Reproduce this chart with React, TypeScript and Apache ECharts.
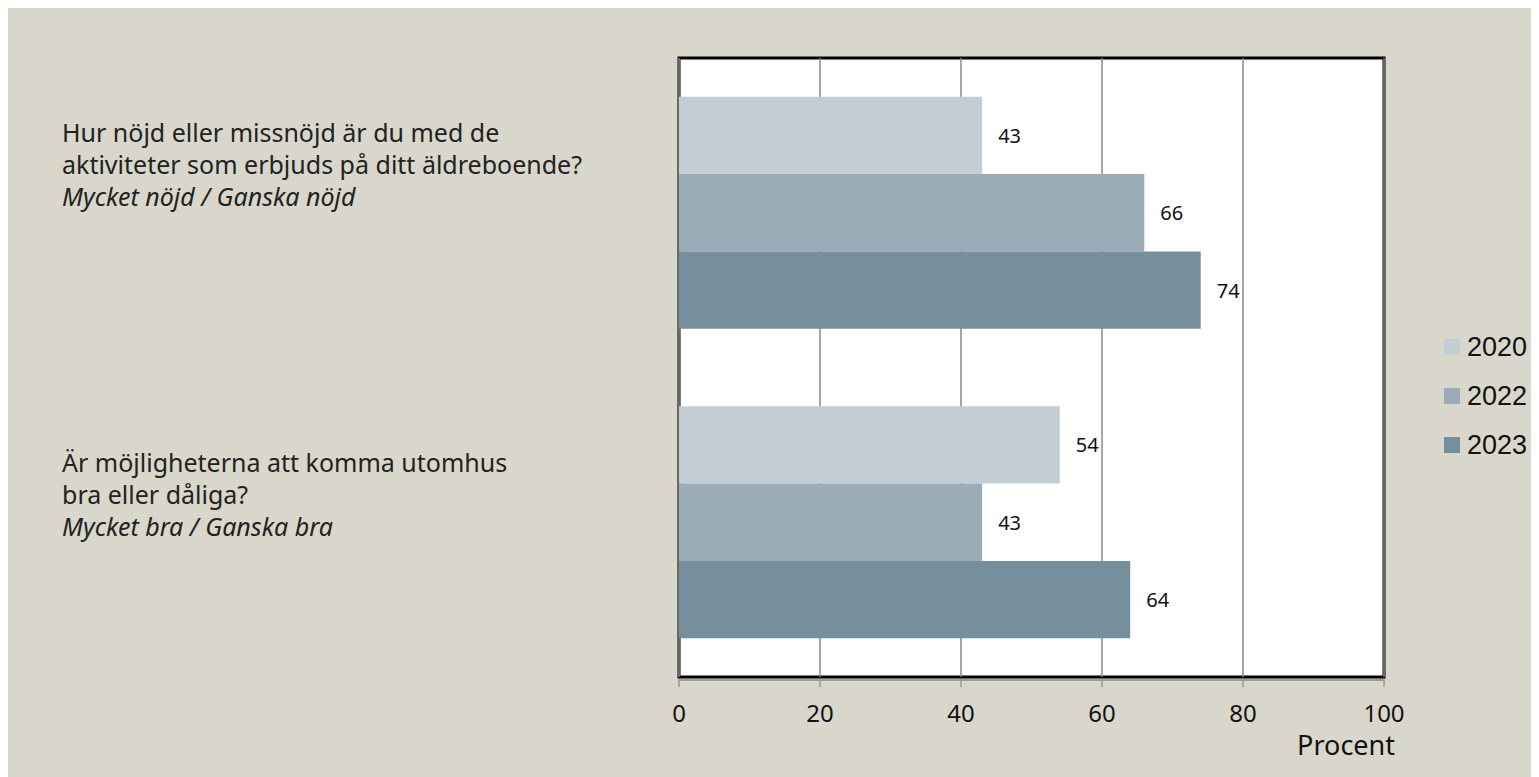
import React, { useEffect, useRef } from "react";
import * as echarts from "echarts";

const categories = [
  ["Hur nöjd eller missnöjd är du med de", "aktiviteter som erbjuds på ditt äldreboende?", "Mycket nöjd / Ganska nöjd"],
  ["Är möjligheterna att komma utomhus", "bra eller dåliga?", "Mycket bra / Ganska bra"],
];
const seriesNames = ["2020", "2022", "2023"];
const values2020 = [43, 54];
const values2022 = [66, 43];
const values2023 = [74, 64];
const colors = ["#c3ced4", "#99acb7", "#758f9c"];
const xTicks = [0, 20, 40, 60, 80, 100];
const axisName = "Procent";

const FONT = "Noto Sans";

export default function App() {
  const ref = useRef<HTMLDivElement>(null);
  useEffect(() => {
    if (!ref.current) return;
    const chart = echarts.init(ref.current, null, { renderer: "svg" });
    const data = [values2020, values2022, values2023];
    const labelTops = [111, 441];
    chart.setOption({
      animation: false,
      backgroundColor: "#d9d7cb",
      textStyle: { fontFamily: FONT },
      grid: {
        left: 671,
        top: 50,
        width: 705,
        height: 619,
        show: true,
        backgroundColor: "#ffffff",
        borderColor: "#000000",
        borderWidth: 3,
      },
      legend: {
        orient: "vertical",
        left: 1436,
        top: 325,
        padding: 0,
        itemWidth: 16,
        itemHeight: 16,
        itemGap: 21,
        icon: "rect",
        textStyle: {
          fontSize: 27,
          lineHeight: 28,
          color: "#111",
          fontFamily: "Liberation Sans",
          padding: [0, 0, 0, 2],
        },
        data: seriesNames,
      },
      xAxis: {
        type: "value",
        min: 0,
        max: 100,
        interval: 20,
        offset: 3,
        axisLine: { show: true, lineStyle: { color: "#888", width: 1.5 } },
        axisTick: { show: true, length: 7, lineStyle: { color: "#999", width: 1.5 } },
        axisLabel: {
          fontSize: 24,
          color: "#111",
          margin: 20,
          fontFamily: FONT,
          formatter: (v: number) => (xTicks.includes(v) ? String(v) : ""),
        },
        splitLine: { show: true, lineStyle: { color: "#888", width: 1.5 } },
      },
      yAxis: {
        type: "category",
        inverse: true,
        data: categories.map((c) => c.join(" ")),
        axisLine: { show: false },
        axisTick: { show: false },
        axisLabel: { show: false },
      },
      series: seriesNames.map((name, i) => ({
        name,
        type: "bar",
        data: data[i],
        barGap: "0%",
        barCategoryGap: "25%",
        itemStyle: { color: colors[i] },
        label: {
          show: true,
          position: "right",
          distance: 16,
          fontSize: 20,
          color: "#111",
          fontFamily: FONT,
        },
      })),
      graphic: [
        ...categories.map((lines, i) => ({
          type: "text",
          left: 54,
          top: labelTops[i],
          style: {
            text: `{a|${lines[0]}}\n{a|${lines[1]}}\n{i|${lines[2]}}`,
            rich: {
              a: { fontSize: 25, lineHeight: 32, fontFamily: FONT, fill: "#222" },
              i: { fontSize: 25, lineHeight: 32, fontFamily: FONT, fontStyle: "italic", fill: "#222" },
            },
          },
        })),
        {
          type: "text",
          right: 144,
          top: 723,
          style: { text: axisName, fontSize: 27, fontFamily: FONT, fill: "#111" },
        },
      ],
    });
    return () => chart.dispose();
  }, []);
  return <div ref={ref} style={{ width: 1531, height: 769 }} />;
}
